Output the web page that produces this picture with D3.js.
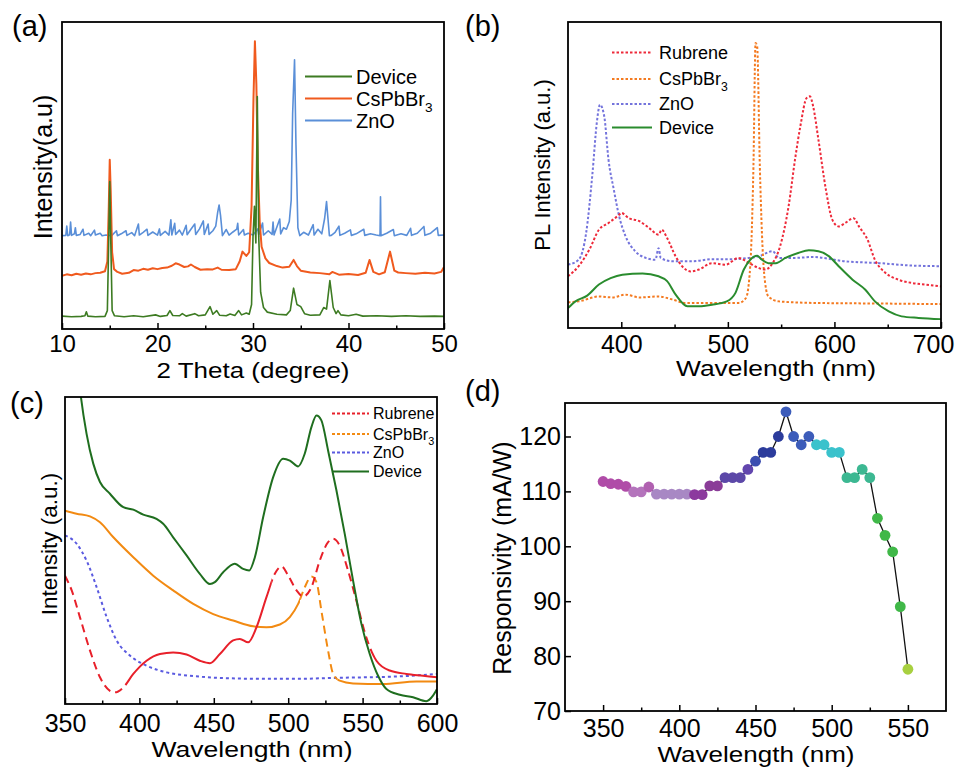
<!DOCTYPE html>
<html>
<head>
<meta charset="utf-8">
<script src="https://cdn.jsdelivr.net/npm/d3@7"></script>
<style>
  body { margin: 0; background: #fff; }
  svg { display: block; font-family: "Liberation Sans", Arial, sans-serif; }
</style>
</head>
<body>
<svg id="fig" width="958" height="768"></svg>
<script>
// ---------- (a) XRD, intensity in arbitrary units (0 = frame bottom, 100 = top)
const xrdDevice = [[10,4.2],[11,4.0],[12,4.1],[12.4,4.3],[12.55,5.6],[12.7,4.2],[13.5,4.0],[14.5,4.1],[14.75,6],[14.9,30],[15.0,48],[15.1,30],[15.25,6],[15.5,4.3],[16.5,4.0],[17.5,4.3],[18.5,4.0],[19.8,4.6],[20.3,4.1],[21.0,4.4],[21.3,6.0],[21.6,4.4],[22.3,4.3],[22.6,5.0],[23.0,4.2],[23.9,5.0],[24.3,4.3],[25.0,4.6],[25.5,7.3],[25.8,4.8],[26.2,6.0],[26.5,4.5],[27.2,4.3],[27.6,4.9],[28.1,4.4],[28.5,6.0],[28.8,4.6],[29.3,5.2],[29.6,4.8],[29.85,8],[30.0,30],[30.15,40],[30.3,28],[30.45,75.7],[30.6,30],[30.8,12],[31.1,7],[31.5,5.5],[32.5,4.8],[33.5,4.6],[33.9,6],[34.25,13.3],[34.6,8],[35.0,7.3],[35.4,5],[36.0,4.5],[37.0,4.6],[37.4,7],[37.7,6.5],[38.05,15.8],[38.4,7],[38.7,5],[38.9,6.0],[39.2,4.6],[40,4.3],[40.8,4.8],[41.5,4.2],[43,4.3],[44.5,4.1],[46,4.3],[47.5,4.1],[49,4.2],[50,4.1]];
const xrdCsPbBr3 = [[10,17.3],[10.5,17.8],[11,17.5],[11.5,18],[12,17.7],[12.5,18.1],[13,17.8],[13.5,18.2],[14,18.3],[14.5,18.8],[14.75,22],[14.9,40],[15.0,55.1],[15.1,45],[15.25,25],[15.45,19.5],[15.8,18.6],[16.3,18.0],[17,18.3],[17.5,19.2],[18,19.0],[18.5,19.6],[19,19.3],[19.5,19.8],[20,19.5],[20.5,19.9],[21,20.0],[21.5,20.6],[21.9,21.4],[22.3,21.0],[22.8,20.2],[23.2,20.4],[23.5,21.0],[23.9,20.2],[24.5,19.3],[25.2,19.5],[25.8,19.4],[26.3,20.0],[26.7,19.3],[27.5,19.2],[28.2,19.5],[28.6,22],[28.9,25.2],[29.3,23.8],[29.6,25],[29.85,40],[30.05,75],[30.2,93.7],[30.35,80],[30.5,54],[30.7,35],[30.9,26.8],[31.3,23],[31.7,21.5],[32.5,20.5],[33.1,20],[33.8,20.3],[34.25,22.5],[34.6,20.5],[35,19],[36,18.4],[37,18.2],[38,17.8],[38.3,18.6],[39,17.7],[40,17.9],[41,17.6],[41.8,18.3],[42.2,22.5],[42.6,18.6],[43.2,17.8],[43.8,18.5],[44.35,25.2],[44.8,19],[45.2,18.4],[46,18.2],[47,18.0],[48,18.3],[49,18.1],[49.7,18.6],[50,20.2]];
const xrdZnO = [[10,30.4],[10.4,30.5],[10.5,33.5],[10.6,30.4],[10.8,30.7],[10.9,34.8],[11.0,30.5],[11.3,31.0],[11.4,33],[11.5,30.5],[11.9,30.8],[12.2,32.5],[12.3,30.5],[12.8,31.2],[13.0,30.4],[13.4,32.2],[13.5,30.6],[14,31.2],[14.2,30.4],[14.6,30.6],[15.2,30.4],[15.7,32],[15.8,30.4],[16.2,31],[16.7,32],[16.8,30.5],[17.3,31.4],[17.6,30.4],[18.0,34.2],[18.1,30.6],[18.5,31.5],[18.9,32.5],[19.0,30.5],[19.5,31.6],[20.0,30.6],[20.2,32.6],[20.3,30.5],[20.8,31.8],[21.2,30.6],[21.4,35.6],[21.5,30.6],[21.8,34.4],[21.9,30.8],[22.3,32.2],[22.6,30.6],[23.0,33.8],[23.1,30.7],[23.5,32.5],[23.9,34.2],[24.0,30.8],[24.4,32.6],[24.8,35.2],[24.9,30.8],[25.3,34.2],[25.4,30.8],[25.8,32],[26.1,33.5],[26.3,38],[26.45,40.4],[26.6,37],[26.8,30.4],[27.2,32.4],[27.5,30.6],[27.9,31.6],[28.3,32.5],[28.4,34.4],[28.5,30.6],[29.0,32.4],[29.1,30.6],[29.5,31.2],[30.0,30.6],[30.5,32.6],[30.6,30.6],[31.0,34.5],[31.1,30.6],[31.6,32],[32.0,30.8],[32.1,34.8],[32.2,30.6],[32.8,35.8],[32.9,31],[33.2,33],[33.5,32.5],[33.8,35],[34.0,42],[34.15,70],[34.35,87.7],[34.5,60],[34.7,33],[34.9,30.4],[35.3,31.5],[35.8,30.6],[36.3,34],[36.4,30.6],[36.8,32.5],[37.2,31],[37.5,36],[37.7,41.5],[37.85,36],[38.0,30.4],[38.2,30.5],[38.6,31.5],[39.0,33.5],[39.1,30.5],[39.6,31.2],[40.2,32.3],[40.3,30.5],[40.8,31],[41.6,32.5],[41.7,30.5],[42.3,31],[42.9,30.6],[43.3,30.4],[43.35,43.1],[43.4,30.4],[44,31.2],[44.7,32.4],[44.8,30.4],[45.5,31],[46.1,30.5],[46.5,32.8],[46.6,30.5],[47.2,31.2],[47.9,33.4],[48.0,30.5],[48.6,31.2],[49.3,33],[49.4,30.5],[50,30.6]];
const xrdTicks = [10, 20, 30, 40, 50];

// ---------- (b) PL spectra [nm, a.u.]
const plRubrene = [[350,16.9],[360,20.2],[370,25.6],[379,32.1],[388,34.3],[398,37.0],[400,37.6],[407,35.9],[417,34.9],[426,32.7],[435,30.5],[438,32.1],[443,29.4],[451,23.4],[457,20.2],[465,18.5],[473,19.1],[485,21.2],[498,20.7],[510,22.9],[520,21.2],[529,19.6],[535,19.1],[542,21.2],[549,26.7],[557,39.8],[563,55.0],[568,65.9],[574,75.2],[577,75.7],[580,72.5],[585,61.5],[592,45.2],[598,35.4],[604,33.2],[610,34.3],[618,35.9],[623,33.2],[631,28.9],[638,22.3],[648,18.0],[660,15.8],[673,14.7],[685,14.2],[700,13.6]];
const plCsPbBr3 = [[350,8.4],[360,8.7],[379,10.3],[392,10.0],[404,10.9],[417,10.0],[435,10.3],[448,9.3],[460,8.2],[485,8.2],[510,8.2],[517,9.8],[521,20.2],[524,52.8],[526,93.1],[527.5,92],[530,52.8],[534,18.0],[538,10.3],[548,8.7],[579,8.2],[642,8.0],[700,7.8]];
const plZnO = [[350,20.7],[360,22.3],[367,31.0],[373,50.7],[377,67.0],[380,73.0],[384,69.2],[388,55.0],[393,45.2],[398,36.5],[404,30.0],[413,25.1],[423,22.9],[432,22.3],[435,26.1],[437,22.9],[448,21.8],[467,21.8],[485,22.5],[504,22.5],[520,22.9],[529,23.4],[542,25.1],[548,22.9],[563,22.9],[579,23.2],[610,21.8],[642,21.2],[673,20.4],[700,20.2]];
const plDevice = [[350,6.5],[357,8.7],[368,10.6],[379,14.2],[390,16.3],[401,17.4],[420,17.8],[435,16.9],[443,15.3],[451,10.9],[462,7.1],[473,7.1],[485,7.6],[499,8.7],[507,11.4],[515,19.1],[521,22.3],[527.5,23.6],[532,22.3],[538,21.2],[545,21.2],[554,22.9],[566,24.5],[576,25.4],[585,25.1],[595,23.4],[604,20.2],[617,15.8],[629,12.5],[638,8.7],[651,5.4],[663,3.8],[679,3.3],[700,2.9]];
const plTicks = [400, 500, 600, 700];

// ---------- (c) absorption [nm, a.u.]
const absRubrene = [[350,41.8],[354.5,37.0],[360,28.3],[366.8,17.4],[373.5,8.7],[380.2,4.3],[383.6,3.8],[389.2,5.4],[395.9,9.8],[404.8,14.1],[413.8,16.3],[422.7,16.8],[431.7,16.1],[440.6,14.1],[447.4,13.3],[454.1,16.3],[463,20.7],[467.5,21.2],[473.1,20.1],[478.7,25.0],[485.4,34.8],[491,42.4],[495.5,44.8],[500,41.8],[505.6,37.0],[510,35.0],[515.6,38.0],[521.2,46.7],[526.8,52.7],[530.2,53.8],[534.6,51.6],[540.2,43.5],[545.8,33.7],[552.5,21.7],[559.3,14.1],[568.2,10.9],[579.4,9.8],[590.6,9.2],[600,8.7]];
const absCsPbBr3 = [[350,63.0],[357.8,62.0],[366.8,61.1],[373.5,59.2],[382.5,54.3],[395.9,47.8],[409.3,41.8],[422.7,37.0],[436.2,32.6],[449.6,29.3],[463,27.2],[476.5,25.3],[485.4,25.0],[494.4,25.9],[501.1,28.3],[506.7,32.6],[511.1,38.0],[515.6,41.5],[519,39.7],[522.3,30.4],[526.8,17.4],[530.2,9.8],[534.6,7.6],[543.6,6.7],[563.7,6.5],[586.1,7.3],[600,7.3]];
const absZnO = [[350,54.9],[357.8,52.2],[364.5,46.7],[371.3,38.0],[378,28.3],[384.7,20.7],[393.6,15.8],[404.8,12.5],[418.3,10.3],[436.2,9.1],[458.5,8.4],[485.4,8.2],[507.8,8.2],[530.2,8.5],[552.5,8.7],[575,9.0],[600,9.8]];
const absDevice = [[358,112],[360.7,100],[364.5,88],[369,78.3],[373.5,72.3],[380.2,68.5],[389.2,64.1],[395.9,63.3],[402.6,61.7],[411.5,60.3],[416,58.7],[422.7,54.3],[431.7,48.4],[440.6,42.4],[447.4,39.1],[450.7,39.7],[456.3,42.9],[464.1,45.7],[469.7,44.0],[473.8,43.5],[477.6,47.8],[483.2,60.9],[489.9,73.9],[496.6,79.9],[501.1,79.3],[506.7,77.4],[511.1,81.5],[515.6,90.2],[519,94.0],[522.3,92.4],[526.8,82.6],[532.4,69.6],[538,55.4],[543.6,40.2],[549.2,26.1],[554.8,16.3],[560.4,9.2],[566,4.9],[575,3.0],[583.9,2.2],[592.8,0.9],[597.3,2.7],[600,4.9]];
const absTicks = [350, 400, 450, 500, 550, 600];

// ---------- (d) responsivity
const respWavelength = [350,355,360,365,370,375,380,385,390,395,400,405,410,415,420,425,430,435,440,445,450,455,460,465,470,475,480,485,490,495,500,505,510,515,520,525,530,535,540,545,550];
const respValue = [111.8,111.4,111.3,110.9,109.9,109.9,110.8,109.5,109.5,109.5,109.5,109.5,109.4,109.4,111.0,111.0,112.5,112.5,112.5,114.0,115.5,117.1,117.1,120.0,124.5,120.0,118.5,120.0,118.5,118.5,117.1,117.1,112.5,112.5,114.0,112.5,105.1,102.0,99.0,89.0,77.6];
const respXTicks = [350, 400, 450, 500, 550];
const respYTicks = [70, 80, 90, 100, 110, 120];

const svg = d3.select('#fig');

function makePanel(id, box, xDom, yDom) {
  const x = d3.scaleLinear().domain(xDom).range([box.x0, box.x1]);
  const y = d3.scaleLinear().domain(yDom).range([box.y1, box.y0]);
  const g = svg.append('g').attr('id', id);
  g.append('clipPath').attr('id', id + '-clip')
    .append('rect')
    .attr('x', box.x0).attr('y', box.y0)
    .attr('width', box.x1 - box.x0).attr('height', box.y1 - box.y0);
  const plot = g.append('g').attr('clip-path', 'url(#' + id + '-clip)');
  return { id, box, x, y, g, plot };
}

function styleAxis(sel, fs) {
  sel.attr('font-family', null).attr('font-size', fs);
  sel.select('.domain').remove();
  sel.selectAll('.tick line').attr('stroke', '#000').attr('stroke-width', 1.5);
  sel.selectAll('.tick text').attr('fill', '#000');
}

function bottomAxis(p, major, minor, fs, pad) {
  if (minor.length) {
    p.g.append('g')
      .attr('transform', 'translate(0,' + p.box.y1 + ')')
      .call(d3.axisBottom(p.x).tickValues(minor).tickSize(-3.5).tickFormat(''))
      .call(s => styleAxis(s, fs));
  }
  return p.g.append('g')
    .attr('transform', 'translate(0,' + p.box.y1 + ')')
    .call(d3.axisBottom(p.x).tickValues(major).tickSize(-6).tickPadding(pad).tickFormat(d3.format('d')))
    .call(s => styleAxis(s, fs));
}

function frame(p) {
  p.g.append('rect')
    .attr('x', p.box.x0).attr('y', p.box.y0)
    .attr('width', p.box.x1 - p.box.x0).attr('height', p.box.y1 - p.box.y0)
    .attr('fill', 'none').attr('stroke', '#000').attr('stroke-width', 1.8);
}

// the source figure is stretched sideways, so horizontal titles get a fixed length
function xTitle(text, cx, y, fs, len) {
  svg.append('text').attr('x', cx).attr('y', y).attr('text-anchor', 'middle')
    .attr('font-size', fs)
    .attr('textLength', len).attr('lengthAdjust', 'spacingAndGlyphs')
    .text(text);
}

function yTitle(text, x, cy, fs) {
  svg.append('text').attr('transform', 'translate(' + x + ',' + cy + ') rotate(-90)')
    .attr('text-anchor', 'middle').attr('font-size', fs).text(text);
}

function panelLabel(text, x, y) {
  svg.append('text').attr('x', x).attr('y', y).attr('font-size', 29).text(text);
}

function drawLine(p, data, color, width, dash, curve) {
  const line = d3.line().x(d => p.x(d[0])).y(d => p.y(d[1])).curve(curve || d3.curveLinear);
  p.plot.append('path').datum(data)
    .attr('d', line).attr('fill', 'none')
    .attr('stroke', color).attr('stroke-width', width)
    .attr('stroke-dasharray', dash || null)
    .attr('stroke-linejoin', 'round');
}

// draw a line whose dash pattern changes along x (segments = [[from, to, dash], ...])
function drawSegLine(p, data, color, width, segments, curve) {
  const line = d3.line().x(d => p.x(d[0])).y(d => p.y(d[1])).curve(curve);
  segments.forEach((s, i) => {
    const cid = p.id + '-seg-' + color.slice(1) + '-' + i;
    p.g.append('clipPath').attr('id', cid).append('rect')
      .attr('x', p.x(s[0])).attr('y', p.box.y0)
      .attr('width', p.x(s[1]) - p.x(s[0])).attr('height', p.box.y1 - p.box.y0);
    p.plot.append('g').attr('clip-path', 'url(#' + cid + ')')
      .append('path').datum(data)
      .attr('d', line).attr('fill', 'none')
      .attr('stroke', color).attr('stroke-width', width)
      .attr('stroke-dasharray', s[2] || null);
  });
}

function legend(items, o) {
  items.forEach((it, i) => {
    const yy = o.rows[i];
    svg.append('line').attr('x1', o.x1).attr('x2', o.x2).attr('y1', yy).attr('y2', yy)
      .attr('stroke', it.color).attr('stroke-width', it.width || 2)
      .attr('stroke-dasharray', it.dash || null);
    const t = svg.append('text').attr('x', o.tx).attr('y', yy + o.fs * 0.36).attr('font-size', o.fs);
    t.append('tspan').text(it.label);
    if (it.sub) {
      t.append('tspan').attr('font-size', o.fs * 0.68).attr('dy', o.fs * 0.3).text(it.sub);
    }
  });
}

// ================= (a)
const pa = makePanel('pa', { x0: 62, x1: 444, y0: 22, y1: 329 }, [10, 50], [0, 100]);
drawLine(pa, xrdZnO, '#5a8fd8', 1.6);
drawLine(pa, xrdCsPbBr3, '#f05a1e', 2);
drawLine(pa, xrdDevice, '#3d7b22', 1.6);
bottomAxis(pa, xrdTicks, [15, 25, 35, 45], 24, 6);
frame(pa);
legend([
  { label: 'Device', color: '#3d7b22' },
  { label: 'CsPbBr', sub: '3', color: '#f05a1e' },
  { label: 'ZnO', color: '#5a8fd8' }
], { x1: 305, x2: 352, tx: 356, rows: [76.5, 98.5, 120.5], fs: 20 });
xTitle('2 Theta (degree)', 253, 377.5, 22, 193);
yTitle('Intensity(a.u)', 52, 167, 25);
panelLabel('(a)', 12, 36);

// ================= (b)
const pb = makePanel('pb', { x0: 568, x1: 941, y0: 22, y1: 328 }, [350, 700], [0, 100]);
drawLine(pb, plZnO, '#7474dc', 2, '2.5,2', d3.curveMonotoneX);
drawLine(pb, plCsPbBr3, '#f47a20', 2, '2.5,2', d3.curveMonotoneX);
drawLine(pb, plRubrene, '#ee2a3a', 2, '2.5,2', d3.curveMonotoneX);
drawLine(pb, plDevice, '#2a8c2e', 2, null, d3.curveMonotoneX);
const axB = bottomAxis(pb, plTicks, [450, 550, 650], 25, 7);
// last label sits against the right edge of the figure, as in the source
axB.selectAll('.tick text').filter(d => d === 700).attr('dx', -8);
frame(pb);
legend([
  { label: 'Rubrene', color: '#ee2a3a', dash: '2.5,2' },
  { label: 'CsPbBr', sub: '3', color: '#f47a20', dash: '2.5,2' },
  { label: 'ZnO', color: '#7474dc', dash: '2.5,2' },
  { label: 'Device', color: '#2a8c2e' }
], { x1: 612, x2: 652, tx: 659, rows: [52.5, 79, 104, 127.5], fs: 18 });
xTitle('Wavelength (nm)', 776, 375.5, 22, 200);
yTitle('PL Intensity (a.u.)', 550, 165, 22);
panelLabel('(b)', 465, 36);

// ================= (c)
const pc = makePanel('pc', { x0: 65, x1: 437, y0: 397, y1: 704 }, [350, 600], [0, 100]);
drawLine(pc, absZnO, '#5a5ae0', 2, '3,3', d3.curveMonotoneX);
drawSegLine(pc, absCsPbBr3, '#f28a12', 2, [[350, 508, null], [508, 533, '8,5'], [533, 600, null]], d3.curveMonotoneX);
drawSegLine(pc, absRubrene, '#e8202a', 2, [[350, 391, '8,5'], [391, 489, null], [489, 557, '8,5'], [557, 600, null]], d3.curveMonotoneX);
drawLine(pc, absDevice, '#1f6e1f', 2, null, d3.curveMonotoneX);
bottomAxis(pc, absTicks, [375, 425, 475, 525, 575], 25, 10);
frame(pc);
legend([
  { label: 'Rubrene', color: '#e8202a', dash: '3,2' },
  { label: 'CsPbBr', sub: '3', color: '#f28a12', dash: '3,2' },
  { label: 'ZnO', color: '#5a5ae0', dash: '3,2' },
  { label: 'Device', color: '#1f6e1f' }
], { x1: 332, x2: 369, tx: 373, rows: [413.5, 434, 452.5, 471.5], fs: 16 });
xTitle('Wavelength (nm)', 252, 756.5, 22, 201);
yTitle('Intensity (a.u.)', 57, 544, 22.5);
panelLabel('(c)', 10, 413);

// ================= (d)
const pd = makePanel('pd', { x0: 565, x1: 946, y0: 403, y1: 711 }, [325, 575], [70, 126.1]);
const respColor = d3.scaleThreshold()
  .domain([368, 378, 383, 408, 418, 428, 443, 448, 453, 468, 488, 508, 528, 548])
  .range(['#b04ca8', '#b474bc', '#b060b0', '#a888c4', '#8c3a9e', '#8a3c98', '#5c48a8', '#6246ae',
          '#3c4eb0', '#2c3c9c', '#3c5cba', '#3ac2cc', '#3cb892', '#40b848', '#a8d040']);
const respData = respWavelength.map((w, i) => [w, respValue[i]]);
pd.g.append('path').datum(respData)
  .attr('d', d3.line().x(d => pd.x(d[0])).y(d => pd.y(d[1])))
  .attr('fill', 'none').attr('stroke', '#111').attr('stroke-width', 1.3);
pd.g.selectAll('circle.pt').data(respData).enter().append('circle')
  .attr('class', 'pt')
  .attr('cx', d => pd.x(d[0])).attr('cy', d => pd.y(d[1])).attr('r', 5.4)
  .attr('fill', d => respColor(d[0]));
bottomAxis(pd, respXTicks, [375, 425, 475, 525], 25, 8);
pd.g.append('g').attr('transform', 'translate(' + pd.box.x0 + ',0)')
  .call(d3.axisLeft(pd.y).tickValues(respYTicks).tickSize(-6).tickPadding(4).tickFormat(d3.format('d')))
  .call(s => styleAxis(s, 25));
frame(pd);
xTitle('Wavelength (nm)', 756, 761.5, 22, 197);
yTitle('Responsivity (mA/W)', 511, 558, 25);
panelLabel('(d)', 465, 401);
</script>
</body>
</html>
